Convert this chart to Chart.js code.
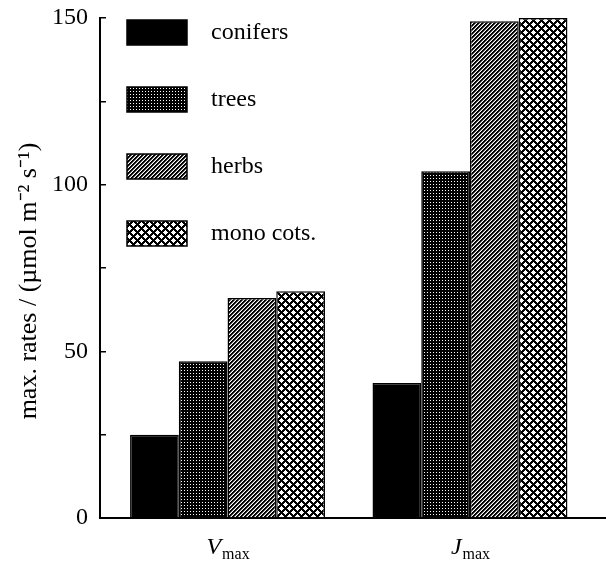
<!DOCTYPE html>
<html>
<head>
<meta charset="utf-8">
<script src="https://cdn.jsdelivr.net/npm/chart.js@4.4.0/dist/chart.umd.min.js"></script>
<style>
  html, body { margin: 0; padding: 0; background: #fff; }
</style>
</head>
<body>
<canvas id="myChart" width="606" height="562"></canvas>
<script>
// data
var categories = ['Vmax', 'Jmax'];
var seriesNames = ['conifers', 'trees', 'herbs', 'mono cots.'];
var conifers = [25, 40.5];
var trees = [47, 104];
var herbs = [66, 149];
var monoCots = [68, 150];
var yTickLabels = [0, 50, 100, 150];

Chart.defaults.font.family = '"Liberation Serif", "Times New Roman", serif';
Chart.defaults.color = '#000';

// black & white fills like the printed figure
function makePattern(kind) {
    var size = { solid: 1, dots: 3, hatch: 4, cross: 8 }[kind];
    var c = document.createElement('canvas');
    c.width = size;
    c.height = size;
    var g = c.getContext('2d');
    g.fillStyle = '#fff';
    g.fillRect(0, 0, size, size);
    for (var x = 0; x < size; x++) {
        for (var y = 0; y < size; y++) {
            var col = null;
            if (kind === 'solid') col = '#000';
            else if (kind === 'dots') col = (x === 1 && y === 1) ? '#fff' : '#000';
            else if (kind === 'hatch') {
                var k = (x + y) % 4;
                col = k < 2 ? '#000' : (k === 2 ? '#777' : '#fff');
            } else if (kind === 'cross') {
                var a = (x + y) % 8, b = (x - y + 8) % 8;
                if (a < 3 || b < 3) col = '#000';
            }
            if (col) {
                g.fillStyle = col;
                g.fillRect(x, y, 1, 1);
            }
        }
    }
    return g.createPattern(c, 'repeat');
}

function toPoints(values) {
    return categories.map(function (c, i) { return { x: i, y: values[i] }; });
}

var seriesValues = [conifers, trees, herbs, monoCots];
var fills = ['solid', 'dots', 'hatch', 'cross'];

var datasets = seriesNames.map(function (name, i) {
    return {
        label: name,
        data: toPoints(seriesValues[i]),
        backgroundColor: makePattern(fills[i]),
        borderColor: '#000',
        borderWidth: 1.5,
        categoryPercentage: 0.804,
        barPercentage: 1.0
    };
});

// put the legend in the upper left of the plot
var legendShift = {
    id: 'legendShift',
    afterLayout: function (chart) {
        var lg = chart.legend;
        var pad = lg.options.labels.padding;
        lg.left = chart.chartArea.left + 27 - pad;
        lg.top = chart.chartArea.top + 2 - pad;
    }
};

// V_max / J_max under the groups
var catLabels = {
    id: 'catLabels',
    afterDraw: function (chart) {
        var ctx = chart.ctx;
        var xs = chart.scales.x;
        var base = chart.chartArea.bottom;
        ctx.save();
        ctx.fillStyle = '#000';
        ctx.textAlign = 'left';
        ctx.textBaseline = 'alphabetic';
        categories.forEach(function (c, i) {
            var main = c.charAt(0), sub = c.slice(1);
            ctx.font = 'italic 24px "Liberation Serif"';
            var w1 = ctx.measureText(main).width;
            ctx.font = '16px "Liberation Serif"';
            var w2 = ctx.measureText(sub).width;
            var x0 = xs.getPixelForValue(i) - (w1 + w2) / 2;
            ctx.font = 'italic 24px "Liberation Serif"';
            ctx.fillText(main, x0, base + 36);
            ctx.font = '16px "Liberation Serif"';
            ctx.fillText(sub, x0 + w1 + 1, base + 41);
        });
        ctx.restore();
    }
};

var ctx = document.getElementById('myChart').getContext('2d');
var myChart = new Chart(ctx, {
    type: 'bar',
    data: { datasets: datasets },
    options: {
        responsive: false,
        animation: false,
        layout: { padding: { top: 18, right: 0, bottom: 44, left: 0 } },
        plugins: {
            legend: {
                position: 'chartArea',
                align: 'start',
                labels: {
                    boxWidth: 60,
                    boxHeight: 25,
                    padding: 42,
                    color: '#000',
                    font: { size: 24 },
                    generateLabels: function (chart) {
                        return Chart.defaults.plugins.legend.labels.generateLabels(chart).map(function (l) {
                            l.text = '\u00a0\u00a0' + l.text;
                            return l;
                        });
                    }
                }
            },
            tooltip: { enabled: false }
        },
        scales: {
            x: {
                type: 'linear',
                offset: false,
                min: -0.526,
                max: 1.561,
                afterBuildTicks: function (s) {
                    s.ticks = categories.map(function (c, i) { return { value: i }; });
                },
                ticks: { display: false },
                grid: { display: false, drawTicks: false, offset: false },
                border: { display: true, color: '#000', width: 2 }
            },
            y: {
                min: 0,
                max: 150,
                afterFit: function (s) {
                    s.width = 100;
                    // label padding is only wanted sideways, not above/below
                    s.paddingTop = 0;
                    s.paddingBottom = 0;
                },
                ticks: {
                    stepSize: 25,
                    padding: 18,
                    color: '#000',
                    font: { size: 24 },
                    callback: function (v) { return yTickLabels.indexOf(v) >= 0 ? v : ''; }
                },
                grid: {
                    drawOnChartArea: false,
                    drawTicks: true,
                    tickLength: -6,
                    color: '#000',
                    lineWidth: 1.5
                },
                border: { display: true, color: '#000', width: 2 },
                title: {
                    display: true,
                    text: 'max. rates / (µmol m⁻² s⁻¹)' + '\u00a0'.repeat(4),
                    color: '#000',
                    font: { size: 26 },
                    padding: { top: 14, bottom: 0 }
                }
            }
        }
    },
    plugins: [legendShift, catLabels]
});
</script>
</body>
</html>
